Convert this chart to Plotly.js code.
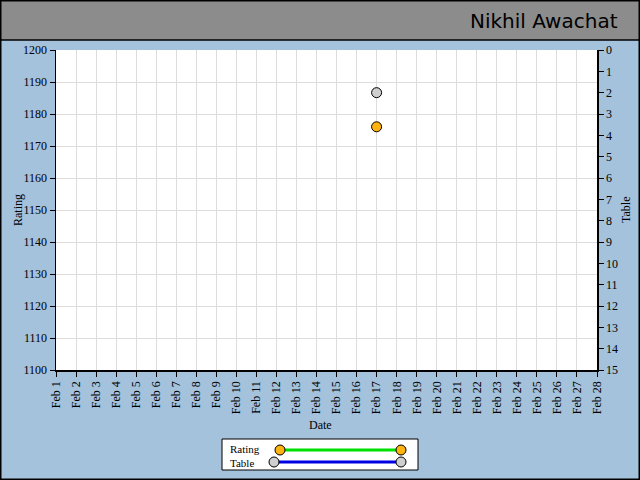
<!DOCTYPE html>
<html>
<head>
<meta charset="utf-8">
<script src="https://cdn.plot.ly/plotly-3.0.1.min.js"></script>
<style>
  html, body { margin: 0; padding: 0; }
  #chart { width: 640px; height: 480px; }
</style>
</head>
<body>
<div id="chart"></div>
<script>
    // data
    const dates = ['2014-02-17'];
    const ratingValues = [1176];
    const tableValues = [2];
    const xRange = ['2014-02-01', '2014-02-28'];
    const ratingRange = [1100, 1200];
    const tableRange = [15, 0];
    const chartTitle = 'Nikhil Awachat';

    // plot box in pixels (used to turn pixel spots into paper coords)
    const W = 640, H = 480;
    const box = {l: 56, r: 597, t: 50, b: 370};
    const px = x => (x - box.l) / (box.r - box.l);
    const py = y => (box.b - y) / (box.b - box.t);

    const serif = 'Liberation Serif, Times New Roman, serif';
    const bg = '#a4c2dc';
    const orange = '#ffb310';
    const grey = '#cfcfcf';

    const rating = {
        x: dates, y: ratingValues, name: 'Rating', yaxis: 'y',
        type: 'scatter', mode: 'lines+markers',
        line: {color: '#00e000', width: 3},
        marker: {color: orange, size: 10, line: {color: 'black', width: 1}}
    };
    const table = {
        x: dates, y: tableValues, name: 'Table', yaxis: 'y2',
        type: 'scatter', mode: 'lines+markers',
        line: {color: '#0000e0', width: 3},
        marker: {color: grey, size: 10, line: {color: 'black', width: 1}}
    };

    const rect = (x0, y0, x1, y1, extra) => Object.assign({
        type: 'rect', xref: 'paper', yref: 'paper',
        x0: px(x0), x1: px(x1), y0: py(y0), y1: py(y1)
    }, extra);
    const dot = (cx, cy, fill) => ({
        type: 'circle', xref: 'paper', yref: 'paper',
        x0: px(cx - 5), x1: px(cx + 5), y0: py(cy - 5), y1: py(cy + 5),
        fillcolor: fill, line: {color: 'black', width: 1}
    });
    const seg = (x0, x1, y, color) => ({
        type: 'line', xref: 'paper', yref: 'paper',
        x0: px(x0), x1: px(x1), y0: py(y), y1: py(y),
        line: {color: color, width: 3}
    });

    const shapes = [
        // header band
        rect(0, 0, W, 40, {fillcolor: '#8c8c8c', line: {color: 'black', width: 1.5}, layer: 'below'}),
        // outer frame
        rect(0.5, 0.5, W - 0.5, H - 0.5, {line: {color: 'black', width: 2}}),
        // legend box
        rect(222, 439, 418, 470, {fillcolor: 'white', line: {color: 'black', width: 1}}),
        seg(280, 401, 450, '#00e000'),
        seg(274, 401, 462, '#0000e0'),
        dot(280, 450, orange), dot(401, 450, orange),
        dot(274, 462, grey), dot(401, 462, grey)
    ];

    const note = (text, x, y, extra) => Object.assign({
        text: text, xref: 'paper', yref: 'paper', x: px(x), y: py(y),
        xanchor: 'center', yanchor: 'middle',
        showarrow: false, font: {family: serif, size: 12, color: 'black'}
    }, extra);

    const legendFont = {family: serif, size: 11, color: 'black'};
    const annotations = [
        note(chartTitle, 620, 21, {xanchor: 'right',
            font: {family: 'DejaVu Sans, sans-serif', size: 20, color: 'black'}}),
        note('Rating', 18, 210, {textangle: -90}),
        note('Table', 626, 210, {textangle: -90}),
        note('Date', 320, 425),
        note('Rating', 228, 449, {xanchor: 'left', font: legendFont}),
        note('Table', 228, 463, {xanchor: 'left', font: legendFont})
    ];

    const layout = {
        width: W, height: H,
        paper_bgcolor: bg, plot_bgcolor: 'white',
        margin: {l: box.l, r: W - box.r, t: box.t, b: H - box.b, pad: 0},
        showlegend: false,
        font: {family: serif, size: 12, color: 'black'},
        xaxis: {
            type: 'date', range: xRange, tick0: xRange[0], dtick: 86400000,
            tickformat: '%b %-d', tickangle: -90,
            showgrid: true, gridcolor: '#dddddd',
            showline: true, linecolor: 'black', linewidth: 1.5,
            ticks: 'outside', ticklen: 5, tickcolor: 'black',
            zeroline: false, fixedrange: true
        },
        yaxis: {
            range: ratingRange, dtick: 10,
            showgrid: true, gridcolor: '#dddddd',
            showline: true, linecolor: 'black', linewidth: 1.5,
            ticks: 'outside', ticklen: 5, tickcolor: 'black',
            zeroline: false, fixedrange: true
        },
        yaxis2: {
            overlaying: 'y', side: 'right', range: tableRange, dtick: 1,
            showgrid: false,
            showline: true, linecolor: 'black', linewidth: 1.5,
            ticks: 'outside', ticklen: 5, tickcolor: 'black',
            zeroline: false, fixedrange: true
        },
        shapes: shapes,
        annotations: annotations
    };

    Plotly.newPlot('chart', [rating, table], layout, {displayModeBar: false, staticPlot: true});
</script>
</body>
</html>
